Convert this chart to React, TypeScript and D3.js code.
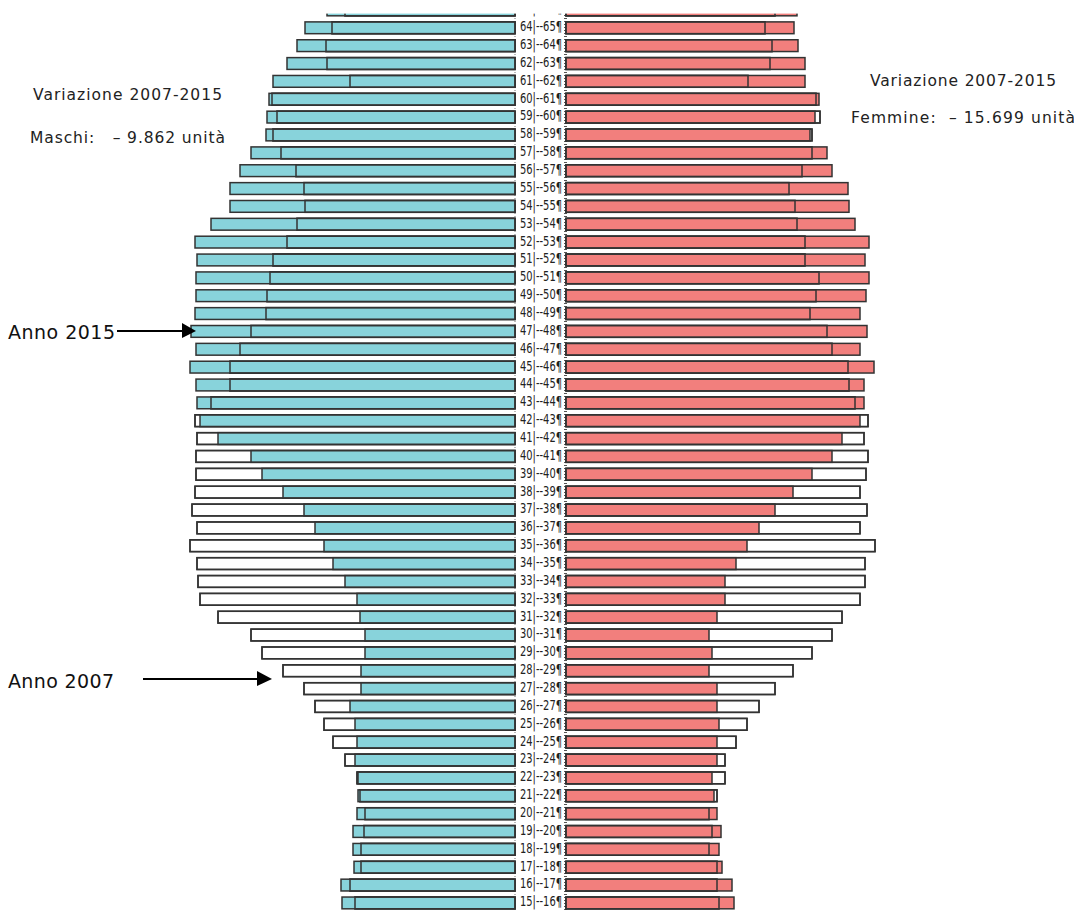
import * as d3 from "d3";

const WIDTH = 1074;
const HEIGHT = 911;

// age classes, bottom to top
const ages = [
  14, 15, 16, 17, 18, 19, 20, 21, 22, 23, 24, 25, 26, 27, 28, 29, 30, 31, 32,
  33, 34, 35, 36, 37, 38, 39, 40, 41, 42, 43, 44, 45, 46, 47, 48, 49, 50, 51,
  52, 53, 54, 55, 56, 57, 58, 59, 60, 61, 62, 63, 64, 65,
];

// males (persons)
const male2015 = [
  3460, 3460, 3480, 3220, 3240, 3240, 3160, 3140, 3140, 3200, 3160, 3200, 3300,
  3080, 3080, 3000, 3000, 3100, 3160, 3400, 3640, 3820, 4000, 4220, 4640, 5060,
  5280, 5940, 6300, 6360, 6380, 6500, 6380, 6480, 6400, 6380, 6380, 6360, 6400,
  6080, 5700, 5700, 5500, 5280, 4980, 4960, 4920, 4840, 4560, 4360, 4200, 3760,
];
const male2007 = [
  3180, 3200, 3300, 3080, 3080, 3020, 3000, 3100, 3160, 3400, 3640, 3820, 4000,
  4220, 4640, 5060, 5280, 5940, 6300, 6340, 6360, 6500, 6360, 6460, 6400, 6380,
  6380, 6360, 6400, 6080, 5700, 5700, 5500, 5280, 4980, 4960, 4900, 4840, 4560,
  4360, 4200, 4220, 4380, 4680, 4840, 4760, 4860, 3300, 3760, 3780, 3660, 3400,
];

// females (persons)
const female2015 = [
  3340, 3360, 3320, 3120, 3060, 3100, 3020, 2960, 2920, 3020, 3020, 3060, 3020,
  3020, 2860, 2920, 2860, 3020, 3180, 3180, 3400, 3620, 3860, 4180, 4540, 4920,
  5320, 5520, 5880, 5960, 5960, 6160, 5880, 6020, 5880, 6000, 6060, 5980, 6060,
  5780, 5660, 5640, 5320, 5220, 4880, 4980, 5060, 4780, 4780, 4640, 4560, 4620,
];
const female2007 = [
  3080, 3060, 3020, 3020, 2860, 2920, 2860, 3020, 3180, 3180, 3400, 3620, 3860,
  4180, 4540, 4920, 5320, 5520, 5880, 5980, 5980, 6180, 5880, 6020, 5880, 6000,
  6040, 5960, 6040, 5780, 5660, 5640, 5320, 5220, 4880, 5000, 5060, 4780, 4780,
  4620, 4580, 4460, 4720, 4920, 4920, 5080, 5000, 3640, 4080, 4120, 3980, 4180,
];

// non-breaking spaces keep the gaps of the original text boxes
const noteLeft = ["Variazione 2007-2015", "Maschi:\u00a0\u00a0\u00a0\u2013 9.862 unità"];
const noteRight = ["Variazione 2007-2015", "Femmine:\u00a0\u00a0\u2013 15.699 unità"];

const MALE_FILL = "#88d3db";
const FEMALE_FILL = "#f27f7d";
const STROKE = "#333";
const SW = 1.5;
const FONT = "'DejaVu Sans', 'Noto Sans', sans-serif";
const NARROW = "'Liberation Sans Narrow', 'DejaVu Sans Condensed', 'DejaVu Sans', sans-serif";

const AXIS_L = 515;
const AXIS_R = 566;

export default function App() {
  const rows = ages.map((a, i) => ({
    age: a,
    m15: male2015[i],
    m07: male2007[i],
    f15: female2015[i],
    f07: female2007[i],
  }));

  const xLeft = d3.scaleLinear().domain([0, 6500]).range([AXIS_L, 190]);
  const xRight = d3.scaleLinear().domain([0, 6500]).range([AXIS_R, 891]);

  const y = d3
    .scaleBand<number>()
    .domain([...ages].reverse())
    .range([1, 1 + ages.length * 17.86])
    .paddingInner(0.34)
    .paddingOuter(0.17);
  const bw = y.bandwidth();

  return (
    <svg
      width={WIDTH}
      height={HEIGHT}
      style={{ position: "absolute", left: 0, top: 0, display: "block", background: "#fff" }}
    >
      {/* axes */}
      <line x1={AXIS_L} x2={AXIS_L} y1={0} y2={HEIGHT} stroke="#777" strokeWidth={1} strokeDasharray="1 2" />
      <line x1={AXIS_R - 0.5} x2={AXIS_R - 0.5} y1={0} y2={HEIGHT} stroke="#555" strokeWidth={3} strokeDasharray="1 2" />

      {rows.map((d) => {
        const yTop = y(d.age)!;
        const yc = yTop + bw / 2;
        return (
          <g key={d.age}>
            {/* 2007 white bar, 2015 coloured bar, then the 2007 outline on top */}
            <rect x={xLeft(d.m07)} y={yTop} width={AXIS_L - xLeft(d.m07)} height={bw} fill="#fff" stroke={STROKE} strokeWidth={SW} />
            <rect x={xLeft(d.m15)} y={yTop} width={AXIS_L - xLeft(d.m15)} height={bw} fill={MALE_FILL} stroke={STROKE} strokeWidth={SW} />
            <rect x={xLeft(d.m07)} y={yTop} width={AXIS_L - xLeft(d.m07)} height={bw} fill="none" stroke={STROKE} strokeWidth={SW} />

            <rect x={AXIS_R} y={yTop} width={xRight(d.f07) - AXIS_R} height={bw} fill="#fff" stroke={STROKE} strokeWidth={SW} />
            <rect x={AXIS_R} y={yTop} width={xRight(d.f15) - AXIS_R} height={bw} fill={FEMALE_FILL} stroke={STROKE} strokeWidth={SW} />
            <rect x={AXIS_R} y={yTop} width={xRight(d.f07) - AXIS_R} height={bw} fill="none" stroke={STROKE} strokeWidth={SW} />

            <text
              x={520}
              y={yc + 3.4}
              fontFamily={NARROW}
              fontSize={14}
              fill="#222"
              textLength={42}
              lengthAdjust="spacingAndGlyphs"
            >
              {`${d.age}|--${d.age + 1}¶`}
            </text>
          </g>
        );
      })}

      {/* top of the slide covers the first row */}
      <rect x={0} y={0} width={WIDTH} height={13.6} fill="#fff" />

      {/* notes */}
      <g fontFamily={FONT} fontSize={15.5} fill="#222">
        <text x={33} y={100} textLength={189}>{noteLeft[0]}</text>
        <text x={30} y={143} textLength={195}>{noteLeft[1]}</text>
        <text x={870} y={86} textLength={186}>{noteRight[0]}</text>
        <text x={851} y={123} textLength={224}>{noteRight[1]}</text>
      </g>

      <g fontFamily={FONT} fontSize={19} fill="#111">
        <text x={8} y={339} textLength={107}>Anno 2015</text>
        <text x={8} y={688} textLength={106}>Anno 2007</text>
      </g>

      {/* arrows */}
      <line x1={117} x2={184} y1={331} y2={331} stroke="#000" strokeWidth={2} />
      <path d="M182,323 L196,331 L182,338 Z" fill="#000" />
      <line x1={143} x2={259} y1={679} y2={679} stroke="#000" strokeWidth={2} />
      <path d="M257,671 L272,679 L257,686 Z" fill="#000" />
    </svg>
  );
}
